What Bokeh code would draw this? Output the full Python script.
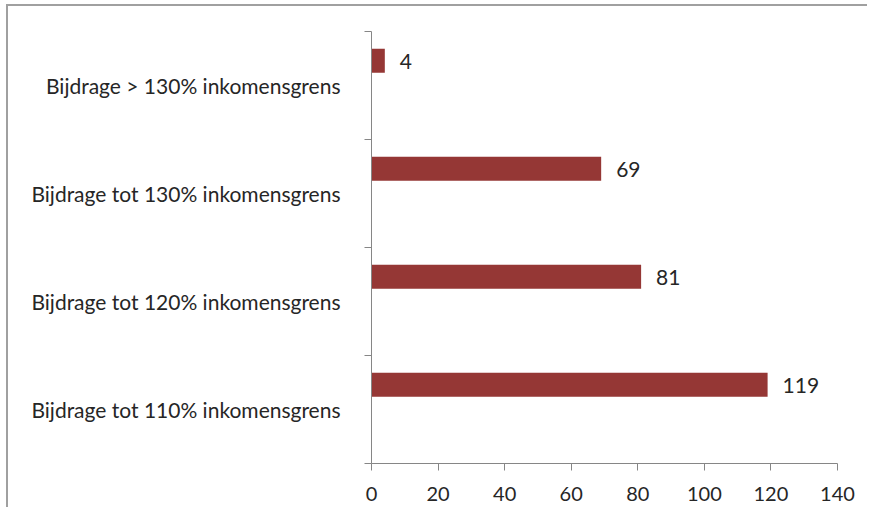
from bokeh.plotting import figure
from bokeh.models import ColumnDataSource, Range1d, FixedTicker
from bokeh.core.properties import value
from bokeh.embed import file_html
from bokeh.resources import INLINE

# Data (bottom to top)
categories = [
    "Bijdrage tot 110% inkomensgrens",
    "Bijdrage tot 120% inkomensgrens",
    "Bijdrage tot 130% inkomensgrens",
    "Bijdrage > 130% inkomensgrens",
]
values = [119, 81, 69, 4]
x_ticks = [0, 20, 40, 60, 80, 100, 120, 140]

FONT = "Lato"
TEXT = "#262626"
AXIS = "#868686"
BAR = "#953735"

n = len(categories)
centers = [i + 0.5 for i in range(n)]
bar_pos = [c + 0.23 for c in centers]
boundaries = list(range(n + 1))

src = ColumnDataSource(dict(pos=bar_pos, value=values, label=[str(v) for v in values]))

p = figure(
    frame_width=466, frame_height=432,
    min_border_left=363, min_border_top=25, min_border_right=30, min_border_bottom=44,
    x_range=Range1d(0, 140), y_range=Range1d(0, n),
    output_backend="svg", toolbar_location=None,
)
p.styles = {"border-top": "2px solid #a0a0a0", "border-left": "2px solid #a0a0a0",
            "margin-left": "6px", "margin-top": "4px"}
p.outline_line_color = None
p.xgrid.visible = False
p.ygrid.visible = False

p.hbar(y="pos", left=0, right="value", height=0.222, source=src,
       fill_color=BAR, line_color=None)
p.text(x="value", y="pos", text="label", source=src, x_offset=15, y_offset=1,
       text_baseline="middle", text_align="left",
       text_font=value(FONT), text_font_size="21px", text_color=TEXT)

xa = p.xaxis[0]
xa.ticker = FixedTicker(ticks=x_ticks)
xa.major_tick_out = 7
xa.major_tick_in = 0
xa.minor_tick_out = 0
xa.minor_tick_in = 0
xa.axis_line_color = AXIS
xa.major_tick_line_color = AXIS
xa.major_label_standoff = 16
xa.major_label_text_font = FONT
xa.major_label_text_font_size = "20px"
xa.major_label_text_color = TEXT

ya = p.yaxis[0]
ya.ticker = FixedTicker(ticks=centers, minor_ticks=boundaries)
ya.major_label_overrides = {c: cat for c, cat in zip(centers, categories)}
ya.major_tick_out = 0
ya.major_tick_in = 0
ya.minor_tick_out = 7
ya.minor_tick_in = 0
ya.axis_line_color = AXIS
ya.minor_tick_line_color = AXIS
ya.major_label_standoff = 24
ya.major_label_text_font = FONT
ya.major_label_text_font_size = "21px"
ya.major_label_text_color = TEXT

open("out.html", "w").write(file_html(p, INLINE))
